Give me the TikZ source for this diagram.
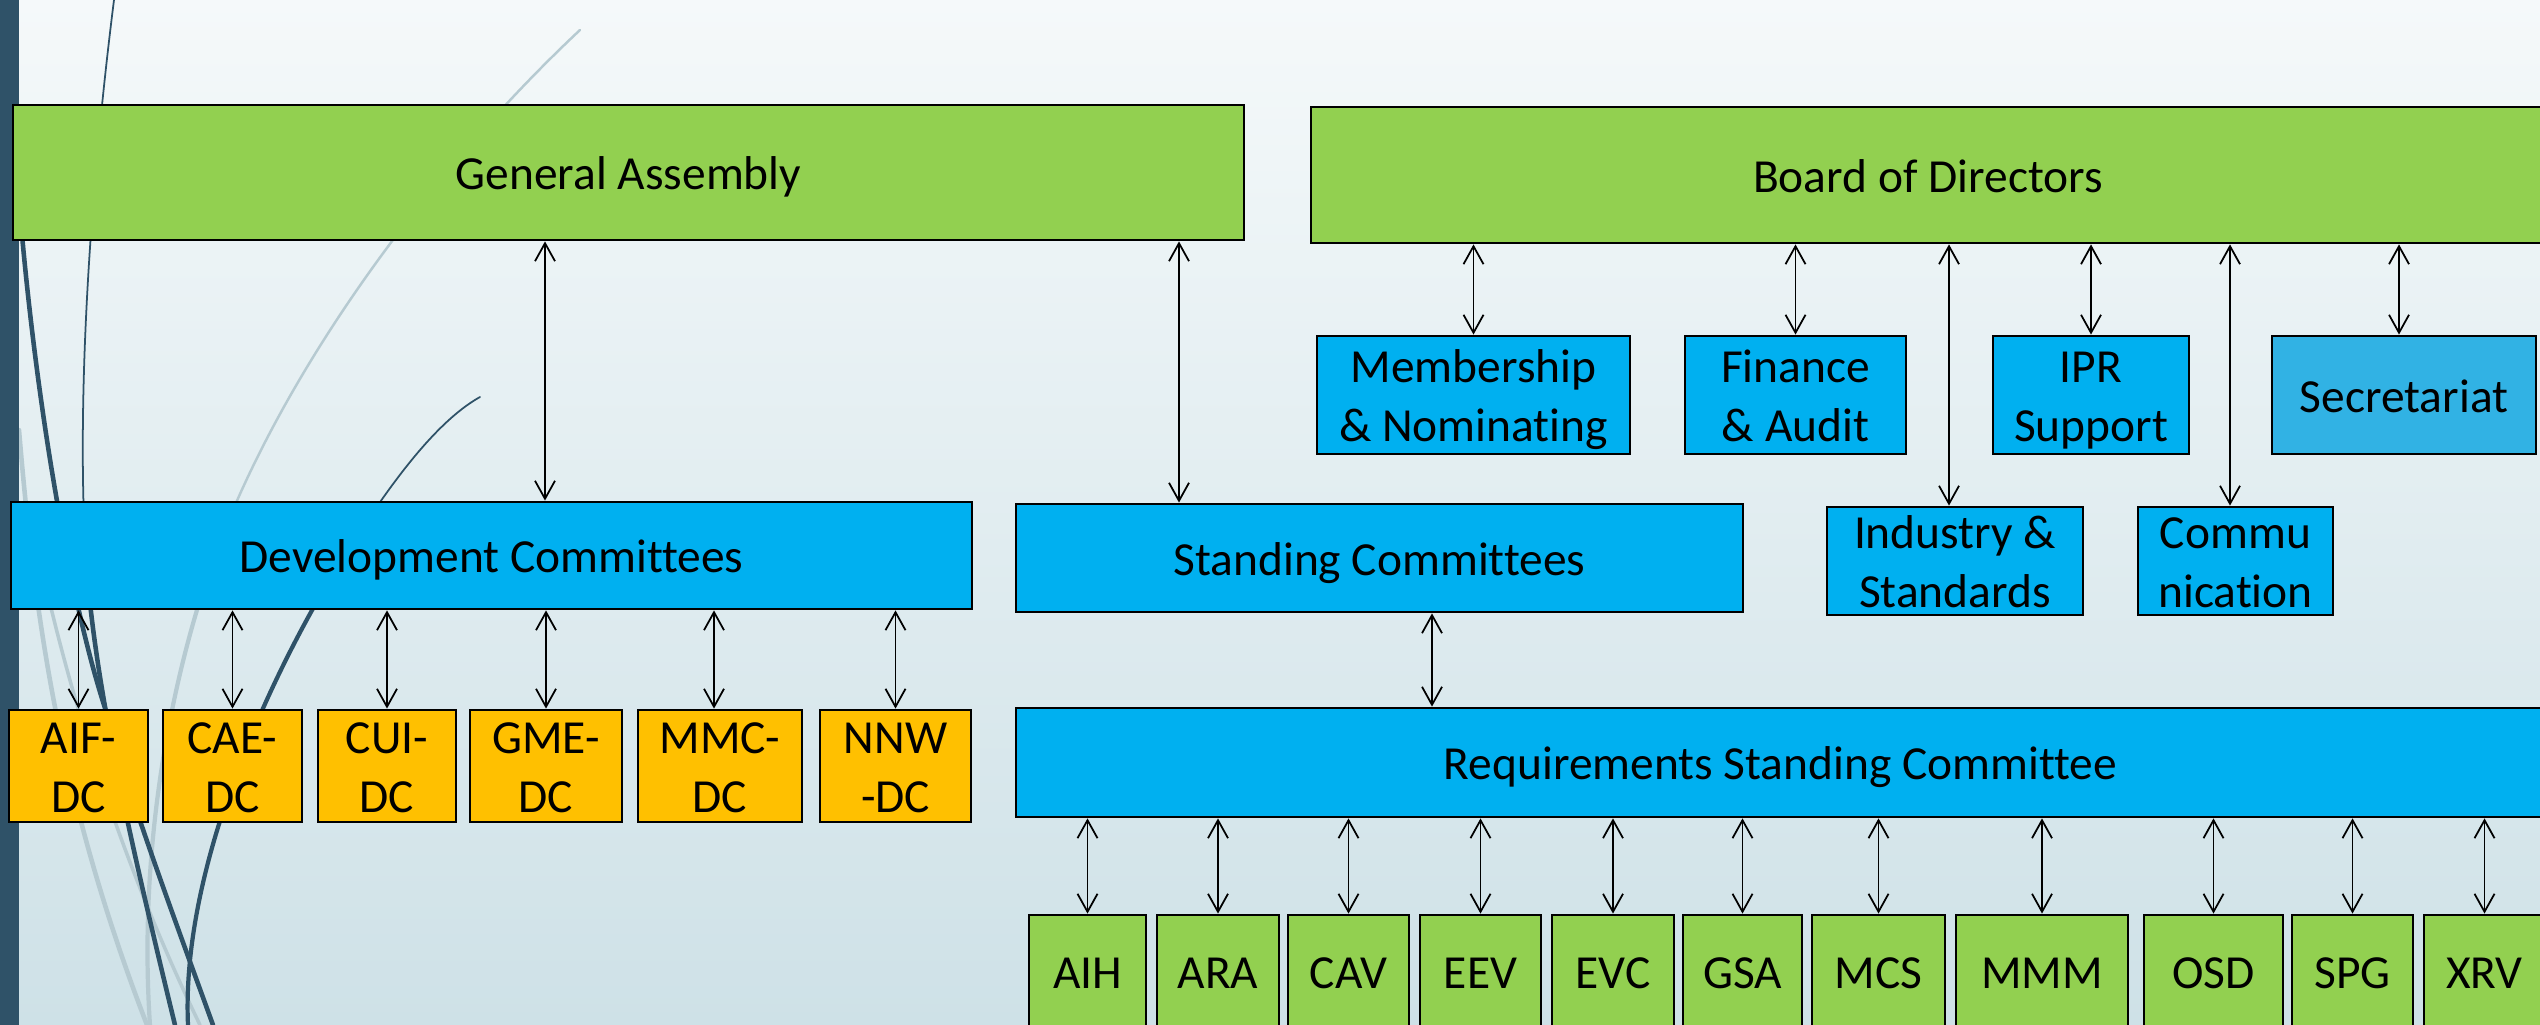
\documentclass[tikz,border=0pt]{standalone}
\usepackage{fontspec}
\setmainfont{Carlito}[Ligatures=CommonOff]
\usetikzlibrary{arrows.meta}
\definecolor{boxgreen}{RGB}{146,208,80}
\definecolor{boxblue}{RGB}{0,176,240}
\definecolor{secblue}{RGB}{49,178,228}
\definecolor{boxgold}{RGB}{255,192,0}
\definecolor{slate}{RGB}{47,82,104}
\definecolor{wisp}{RGB}{182,202,209}
\definecolor{bgtop}{RGB}{245,249,250}
\definecolor{bgbot}{RGB}{206,225,231}
\newcommand\nodestrut{\rule[-2.9pt]{0pt}{15.6pt}}
\begin{document}
\begin{tikzpicture}[>={Straight Barb[length=1.8mm,width=2mm]},line join=round,line cap=round,font=\fontsize{13.5}{16.8}\selectfont,
		box/.style={draw=black,line width=0.8pt,line join=miter,inner sep=0pt,align=center,
			execute at begin node=\nodestrut,execute at end node=\nodestrut},
		twoline/.style={text height=26.6pt,text depth=0pt},
		greenbox/.style={box,fill=boxgreen},
		bluebox/.style={box,fill=boxblue},
		goldbox/.style={box,fill=boxgold,twoline},
		link/.style={<->,line width=0.5pt}]
		\useasboundingbox (0,0) rectangle (25.4,10.25);
		\shade[top color=bgtop,bottom color=bgbot] (0,0) rectangle (25.4,10.25);
		% wisps on the left
		\coordinate (A) at (1.14,10.25);
		\coordinate (Ap) at (0.84,5.05);
		\coordinate (Aq) at (1.75,0);
		\coordinate (B) at (0.19,8.25);
		\coordinate (Bp) at (1.05,3.17);
		\coordinate (Bq) at (2.13,0);
		\coordinate (C) at (4.80,6.28);
		\coordinate (Cp) at (3.45,4.70);
		\coordinate (Cq) at (1.88,0);
		\coordinate (D) at (5.80,9.95);
		\coordinate (Dp) at (2.00,4.25);
		\coordinate (Dq) at (1.50,0);
		\coordinate (E) at (0.19,5.95);
		\coordinate (Eq) at (1.47,0);
		\coordinate (F) at (0.40,4.65);
		\coordinate (Fq) at (2.00,0);
		\draw[wisp,line width=0.7pt] (D) .. controls +(223.2:2.19) and +(73.3:2.09) .. (Dp);
		\draw[wisp,line width=1.2pt] (Dp) .. controls +(252.9:1.36) and +(93.9:1.45) .. (Dq);
		\draw[wisp,line width=1.3pt] (E) .. controls +(274.8:1.91) and +(111.1:2.41) .. (Eq);
		\draw[wisp,line width=1pt] (F) .. controls +(282.3:1.64) and +(115.8:1.61) .. (Fq);
		\draw[slate,line width=0.5pt] (A) .. controls +(262.8:1.51) and +(92:1.70) .. (Ap);
		\draw[slate,line width=1.3pt] (Ap) .. controls +(271.8:1.30) and +(103.7:2.32) .. (Aq);
		\draw[slate,line width=1.3pt] (B) .. controls +(274.6:2.01) and +(108:1.14) .. (Bp)
		.. controls +(285.2:0.95) and +(109.9:1.12) .. (Bq);
		\draw[slate,line width=0.5pt] (C) .. controls +(209.2:0.57) and +(57.5:0.65) .. (Cp);
		\draw[slate,line width=1.2pt] (Cp) .. controls +(237.1:1.01) and +(92.6:1.75) .. (Cq);
		\fill[slate] (0,0) rectangle (0.19,10.25);
		% top level
		\node[greenbox,minimum width=12.31cm,minimum height=1.35cm] (ga) at (6.285,8.525) {General Assembly};
		\node[greenbox,minimum width=12.34cm,minimum height=1.36cm] (bod) at (19.28,8.50) {Board of Directors};
		% board committees
		\node[bluebox,twoline,minimum width=3.13cm,minimum height=1.18cm] (mem) at (14.735,6.30) {Membership\\\& Nominating};
		\node[bluebox,twoline,minimum width=2.21cm,minimum height=1.18cm] (fin) at (17.955,6.30) {Finance\\\& Audit};
		\node[bluebox,twoline,minimum width=1.96cm,minimum height=1.18cm] (ipr) at (20.91,6.30) {IPR\\Support};
		\node[box,fill=secblue,minimum width=2.64cm,minimum height=1.18cm] (sec) at (24.04,6.30) {Secretariat};
		\node[bluebox,twoline,minimum width=2.56cm,minimum height=1.08cm] (ind) at (19.55,4.64) {Industry \&\\Standards};
		\node[bluebox,twoline,minimum width=1.95cm,minimum height=1.08cm] (com) at (22.355,4.64) {Commu\\nication};
		% committees
		\node[bluebox,minimum width=9.61cm,minimum height=1.07cm] (dev) at (4.915,4.695) {Development Committees};
		\node[bluebox,minimum width=7.27cm,minimum height=1.08cm] (sc) at (13.795,4.67) {Standing Committees};
		\node[bluebox,minimum width=15.29cm,minimum height=1.09cm] (rsc) at (17.805,2.625) {Requirements Standing Committee};
		% development committees
		\node[goldbox,minimum width=1.39cm,minimum height=1.12cm] (aif) at (0.785,2.59) {AIF-\\DC};
		\node[goldbox,minimum width=1.39cm,minimum height=1.12cm] (cae) at (2.325,2.59) {CAE-\\DC};
		\node[goldbox,minimum width=1.38cm,minimum height=1.12cm] (cui) at (3.87,2.59) {CUI-\\DC};
		\node[goldbox,minimum width=1.52cm,minimum height=1.12cm] (gme) at (5.46,2.59) {GME-\\DC};
		\node[goldbox,minimum width=1.64cm,minimum height=1.12cm] (mmc) at (7.20,2.59) {MMC-\\DC};
		\node[goldbox,minimum width=1.51cm,minimum height=1.12cm] (nnw) at (8.955,2.59) {NNW\\-DC};
		% requirements groups
		\node[greenbox,minimum width=1.17cm,minimum height=1.12cm] (aih) at (10.875,0.54) {AIH};
		\node[greenbox,minimum width=1.22cm,minimum height=1.12cm] (ara) at (12.18,0.54) {ARA};
		\node[greenbox,minimum width=1.21cm,minimum height=1.12cm] (cav) at (13.485,0.54) {CAV};
		\node[greenbox,minimum width=1.21cm,minimum height=1.12cm] (eev) at (14.805,0.54) {EEV};
		\node[greenbox,minimum width=1.22cm,minimum height=1.12cm] (evc) at (16.13,0.54) {EVC};
		\node[greenbox,minimum width=1.19cm,minimum height=1.12cm] (gsa) at (17.425,0.54) {GSA};
		\node[greenbox,minimum width=1.33cm,minimum height=1.12cm] (mcs) at (18.785,0.54) {MCS};
		\node[greenbox,minimum width=1.72cm,minimum height=1.12cm] (mmm) at (20.42,0.54) {MMM};
		\node[greenbox,minimum width=1.39cm,minimum height=1.12cm] (osd) at (22.135,0.54) {OSD};
		\node[greenbox,minimum width=1.21cm,minimum height=1.12cm] (spg) at (23.525,0.54) {SPG};
		\node[greenbox,minimum width=1.21cm,minimum height=1.12cm] (xrv) at (24.845,0.54) {XRV};
		% links
		\draw[link] (5.45,0 |- ga.south) -- (5.45,0 |- dev.north);
		\draw[link] (11.79,0 |- ga.south) -- (11.79,0 |- sc.north);
		\draw[link] (14.32,0 |- sc.south) -- (14.32,0 |- rsc.north);
		\draw[link] (mem.north |- bod.south) -- (mem.north);
		\draw[link] (fin.north |- bod.south) -- (fin.north);
		\draw[link] (19.49,0 |- bod.south) -- (19.49,0 |- ind.north);
		\draw[link] (ipr.north |- bod.south) -- (ipr.north);
		\draw[link] (22.30,0 |- bod.south) -- (22.30,0 |- com.north);
		\draw[link] (23.99,0 |- bod.south) -- (23.99,0 |- sec.north);
		\draw[link] (aif.north |- dev.south) -- (aif.north);
		\draw[link] (cae.north |- dev.south) -- (cae.north);
		\draw[link] (cui.north |- dev.south) -- (cui.north);
		\draw[link] (gme.north |- dev.south) -- (gme.north);
		\draw[link] (7.14,0 |- dev.south) -- (7.14,0 |- mmc.north);
		\draw[link] (nnw.north |- dev.south) -- (nnw.north);
		\draw[link] (aih.north |- rsc.south) -- (aih.north);
		\draw[link] (ara.north |- rsc.south) -- (ara.north);
		\draw[link] (cav.north |- rsc.south) -- (cav.north);
		\draw[link] (eev.north |- rsc.south) -- (eev.north);
		\draw[link] (evc.north |- rsc.south) -- (evc.north);
		\draw[link] (gsa.north |- rsc.south) -- (gsa.north);
		\draw[link] (mcs.north |- rsc.south) -- (mcs.north);
		\draw[link] (mmm.north |- rsc.south) -- (mmm.north);
		\draw[link] (osd.north |- rsc.south) -- (osd.north);
		\draw[link] (spg.north |- rsc.south) -- (spg.north);
		\draw[link] (xrv.north |- rsc.south) -- (xrv.north);
\end{tikzpicture}
\end{document}
